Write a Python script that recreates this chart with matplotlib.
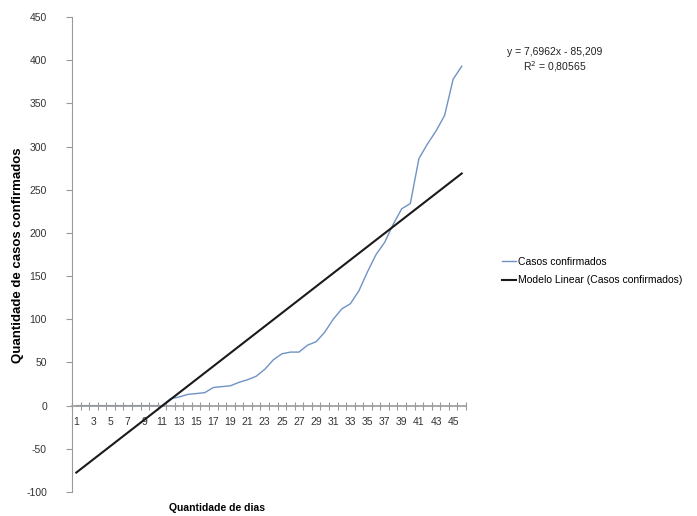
import matplotlib
matplotlib.use("Agg")
import matplotlib.pyplot as plt
import numpy as np

days = list(range(1, 47))
casos = [0, 0, 0, 0, 0, 0, 0, 0, 0, 0, 0,
         8, 10, 13, 14, 15, 21, 22, 23, 27, 30,
         34, 42, 53, 60, 62, 62, 70, 74, 85, 100,
         112, 118, 133, 155, 175, 189, 210, 228, 234, 286,
         303, 318, 336, 378, 393]
slope = 7.6962
intercept = -85.209
r2_text = "0,80565"
eq_text = "y = 7,6962x - 85,209"
yticks = list(range(-100, 451, 50))
xlabels = [str(d) for d in days]

plt.rcParams['font.family'] = ['Liberation Sans', 'DejaVu Sans']

fig = plt.figure(figsize=(6.97, 5.16), dpi=100)
ax = fig.add_axes([72/697, 1-492/516, (466-72)/697, (492-17)/516])

x = np.array(days)
trend = slope * x + intercept
ax.plot(x, casos, color='#6f93c4', lw=1.0, label='Casos confirmados', zorder=1)
ax.plot(x, trend, color='#1a1a1a', lw=1.5, label='Modelo Linear (Casos confirmados)', zorder=4)

ax.set_xlim(0.5, 46.5)
ax.set_ylim(-100, 450)

for s in ['top', 'right']:
    ax.spines[s].set_visible(False)
ax.spines['bottom'].set_position(('data', 0))
ax.spines['bottom'].set_color('#9a9a9a')
ax.spines['bottom'].set_linewidth(1.2)
ax.spines['bottom'].set_zorder(3)
ax.spines['left'].set_color('#9a9a9a')

ax.set_yticks(yticks)
ax.set_yticklabels([str(v) for v in yticks], fontsize=7.5, color='#333333')
ax.tick_params(axis='y', direction='out', length=4, color='#9a9a9a', pad=14)

ax.set_xticks(np.arange(0.5, 47, 1))
ax.set_xticklabels([])
ax.tick_params(axis='x', which='major', direction='inout', length=6, color='#9a9a9a')
ax.set_xticks(x[::2], minor=True)
ax.set_xticklabels(xlabels[::2], minor=True, fontsize=7.5, color='#333333')
ax.tick_params(axis='x', which='minor', length=0, pad=8)

fig.text(18/697, 1-255/516, 'Quantidade de casos confirmados', rotation=90,
         ha='center', va='center', fontsize=9.5, fontweight='bold')
fig.text(217/697, 1-508/516, 'Quantidade de dias', ha='center', va='center',
         fontsize=7.5, fontweight='bold')

fig.text(555/697, 1-52/516, eq_text, ha='center', va='center', fontsize=7.5, color='#222222')
fig.text(555/697, 1-67/516, r'R$^2$ = ' + r2_text, ha='center', va='center', fontsize=7.5, color='#222222')

leg = fig.legend(loc='center left', bbox_to_anchor=(498/697, 1-271/516), frameon=False,
                 fontsize=7.5, handlelength=1.3, handletextpad=0.25, labelspacing=0.8,
                 borderaxespad=0)
fig.savefig('out.png', dpi=100, facecolor='white')
